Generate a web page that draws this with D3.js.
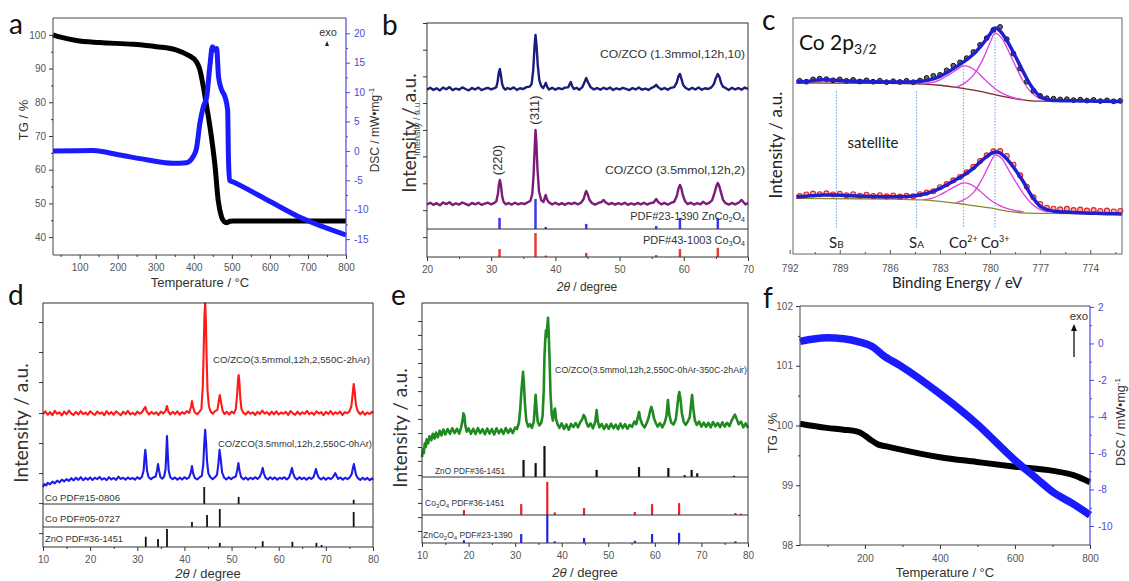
<!DOCTYPE html>
<html>
<head>
<meta charset="utf-8">
<script src="https://cdn.jsdelivr.net/npm/d3@7"></script>
<style>
  body { margin: 0; background: #fff; }
  svg text { font-family: "Liberation Sans", Arial, sans-serif; }
</style>
</head>
<body>
<script>
// ---------- panel a : TG / DSC ----------
const aTG = [[30,100],[50,99.3],[91,98.3],[153,97.7],[241,97.2],[302,96.5],[355,95.5],[385,94],[407,92],
  [415,90],[422,86.5],[432,80],[445,70.8],[456,60.9],[464,51],[473,46],[480,44.6],[486,44.3],[495,44.7],
  [504,44.8],[600,44.8],[700,44.8],[800,44.8]];
const aDSC = [[30,0],[135,0.05],[205,-0.7],[276,-1.5],[346,-2.1],[381,-2.0],[398,-1.0],[407,0.4],[416,4.7],
  [425,7.5],[434,9.2],[442,14.3],[449,17.7],[456,17.1],[460,17.4],[465,12.6],[473,10.4],[482,9.2],[489,6.9],
  [491,-1],[494,-5],[504,-5.3],[592,-8.3],[679,-11.3],[800,-14.3]];
const aTempTicks = [100,200,300,400,500,600,700,800];
const aTGTicks = [40,50,60,70,80,90,100];
const aDSCTicks = [-15,-10,-5,0,5,10,15,20];

// ---------- panel b : XRD ----------
const bUpper = [[20,71.5],[20.5,72.3],[21,71.4],[21.5,72.1],[22,71.2],[22.5,72.4],[23,71.7],[23.5,72.6],[24,71.3],
  [24.5,72.0],[25,71.5],[25.5,72.5],[26,71.8],[26.5,71.2],[27,72.2],[27.5,71.6],[28,72.4],[28.5,71.3],[29,71.9],
  [29.5,72.3],[30,71.6],[30.5,72.2],[30.8,72.6],[31.0,75],[31.2,79],[31.35,80.3],[31.5,78],[31.7,74],[31.9,72.4],
  [32.2,71.5],[32.5,72.2],[33,71.7],[33.5,72.5],[34,71.4],[34.5,72.1],[35,71.8],[35.5,72.6],[36,72.8],[36.3,74],
  [36.55,80],[36.75,90],[36.9,94.9],[37.05,91],[37.25,82],[37.5,75.5],[37.8,73],[38.1,72.2],[38.35,73.5],
  [38.5,74.4],[38.7,72.8],[39,71.6],[39.5,72.3],[40,71.5],[40.5,72.2],[41,71.7],[41.5,72.4],[42,72.5],
  [42.25,74],[42.4,74.8],[42.6,73],[42.9,71.8],[43.3,72.3],[43.7,71.5],[44.2,72.6],[44.5,74.5],[44.8,76.5],
  [45.1,74.6],[45.5,72.5],[46,71.6],[46.5,72.2],[47,71.5],[47.5,72.3],[48,71.7],[48.5,72.4],[49,71.4],
  [49.5,72.1],[50,71.6],[50.5,72.3],[51,71.8],[51.5,71.3],[52,72.2],[52.5,71.6],[53,72.4],[53.5,71.5],[54,72],
  [54.5,71.4],[55,72.3],[55.4,72.8],[55.7,73.6],[56,72.6],[56.5,71.6],[57,72.2],[57.5,71.5],[58,72.3],
  [58.5,72.6],[58.9,74.5],[59.2,77.5],[59.4,78.2],[59.65,76],[59.9,73.5],[60.3,72.2],[60.8,71.5],[61.3,72.3],
  [61.8,71.6],[62.3,72.4],[62.8,71.5],[63.3,72.1],[63.8,71.8],[64.3,72.5],[64.7,74],[65.0,76.5],[65.3,78.2],
  [65.55,77],[65.8,74.5],[66.1,72.8],[66.5,72.2],[67,71.4],[67.5,72.3],[68,71.6],[68.5,72.2],[69,71.5],
  [69.5,72.4],[70,71.8]];
const bLower = [[20,22.4],[20.5,23.2],[21,22.3],[21.5,23.0],[22,22.1],[22.5,23.3],[23,22.6],[23.5,23.4],[24,22.2],
  [24.5,22.9],[25,22.4],[25.5,23.3],[26,22.7],[26.5,22.1],[27,23.1],[27.5,22.5],[28,23.2],[28.5,22.3],[29,22.8],
  [29.5,23.2],[30,22.5],[30.5,23.1],[30.8,23.8],[31.05,27],[31.2,31],[31.35,32.9],[31.5,31],[31.7,26],
  [31.95,23.4],[32.3,22.5],[32.7,23.1],[33.2,22.4],[33.7,23.2],[34.2,22.5],[34.7,23.0],[35.2,22.6],[35.7,23.4],
  [36.1,24],[36.4,27],[36.6,35],[36.78,47],[36.9,54.3],[37.02,50],[37.2,38],[37.45,28],[37.8,24.2],[38.15,23.5],
  [38.35,25.5],[38.5,26.5],[38.7,24.5],[39,23.3],[39.5,22.5],[40,23.2],[40.5,22.4],[41,23.0],[41.5,22.3],
  [42,23.1],[42.5,22.6],[43,23.2],[43.5,22.5],[44,23.2],[44.4,24.8],[44.65,27.2],[44.8,28.2],[45.0,27],
  [45.3,24.5],[45.7,23.0],[46.2,22.4],[46.7,23.1],[47.2,23.5],[47.5,24.4],[47.8,23.4],[48.3,22.5],[48.8,23.1],
  [49.3,22.4],[49.8,23.0],[50.3,22.5],[50.8,23.2],[51.3,22.3],[51.8,22.9],[52.3,22.4],[52.8,23.1],[53.3,22.5],
  [53.8,23.2],[54.3,22.4],[54.8,23.0],[55.3,23.3],[55.7,24.8],[56.0,23.5],[56.5,22.5],[57,23.1],[57.5,22.4],
  [58,23.1],[58.5,23.6],[58.9,26],[59.2,29.5],[59.4,30.8],[59.6,29.5],[59.85,26.5],[60.2,23.8],[60.6,22.6],
  [61.1,23.2],[61.6,22.4],[62.1,23.0],[62.6,22.5],[63,23.6],[63.5,22.6],[64,23.2],[64.4,24.2],[64.8,27.5],
  [65.1,30.5],[65.3,31.6],[65.5,30.5],[65.8,27.5],[66.1,24.5],[66.5,23.0],[67,22.4],[67.5,23.1],[68,22.5],
  [68.6,23.3],[69,24.4],[69.3,23.4],[69.6,22.5],[70,23.0]];
const bRefZCO = [[31.3,37],[36.9,100],[38.5,7],[44.8,17],[55.7,10],[59.4,37],[65.3,37]];
const bRefCo3O4 = [[31.3,33],[36.9,100],[38.5,6],[44.8,17],[55.7,8],[59.4,33],[65.3,38]];
const bYTicks = [8.5,20,31.5,43,54.3,65.8,77.2,88.6,100];

// ---------- panel c : XPS Co 2p3/2 ----------
const cUpperFit = [[791.6,73.0],[791,73.1],[790.5,73.6],[790,73.8],[789.5,73.7],[789,73.5],[788.5,73.3],[788,73.2],
  [787,73.0],[786,72.9],[785,72.9],[784.5,73.0],[784,73.3],[783.5,74.0],[783,75.3],[782.5,77.2],[782,79.4],
  [781.5,81.8],[781,84.6],[780.5,88.5],[780,93.2],[779.7,95.8],[779.4,94.5],[779,90.5],[778.5,84],[778,77],
  [777.5,70.8],[777,66.8],[776.5,65.3],[776,65.0],[775,64.9],[774,64.8],[773,64.7],[772.1,64.6]];
const cUpperBg = [[791.6,72.5],[786,72.3],[784,72.0],[783,71.5],[782,70.6],[781,69.4],[780,68.0],[779,66.5],
  [778,65.3],[777.5,64.9],[777,64.8],[772.1,64.6]];
const cUpperCo2 = [[784,72.1],[783.5,72.6],[783,73.8],[782.5,75.8],[782,78.0],[781.6,79.7],[781.2,79.2],[780.8,77.3],
  [780.4,74.5],[780,71.8],[779.5,69.0],[779,67.2],[778.5,66.0],[778,65.4]];
const cUpperCo3 = [[782,70.7],[781.5,72.5],[781,75.8],[780.5,81.5],[780,89.5],[779.7,93.6],[779.3,91.5],[779,87.5],
  [778.5,80],[778,73],[777.5,68.2],[777,65.8],[776.5,65.0]];
const cUpperPts = [[791.4,73.4],[791.0,73.0],[790.6,74.0],[790.2,74.3],[789.8,74.1],[789.4,73.6],[789.0,74.0],
  [788.6,73.4],[788.2,73.8],[787.8,73.1],[787.4,73.6],[787.0,73.0],[786.6,73.4],[786.2,72.8],[785.8,73.2],
  [785.4,72.9],[785.0,73.4],[784.6,72.8],[784.2,73.5],[783.8,74.6],[783.4,75.5],[783.0,75.9],[782.6,77.8],
  [782.2,79.8],[781.8,81.2],[781.4,83.0],[781.0,85.6],[780.6,88.6],[780.2,91.5],[779.8,95.0],[779.4,96.2],
  [779.0,91.0],[778.6,84.9],[778.2,78.6],[777.8,73.0],[777.4,69.2],[777.0,67.0],[776.6,66.0],[776.2,65.8],
  [775.8,65.5],[775.4,65.6],[775.0,65.2],[774.6,65.4],[774.2,65.0],[773.8,65.3],[773.4,64.8],[773.0,65.1],
  [772.6,64.7],[772.2,64.9]];
const cLowerFit = [[791.6,24.3],[791,24.5],[790.5,24.8],[790,25.0],[789.5,25.0],[789,24.9],[788,24.6],[787,24.4],
  [786,24.3],[785,24.4],[784.5,24.7],[784,25.3],[783.5,26.3],[783,27.8],[782.5,29.7],[782,31.7],[781.5,33.8],
  [781,36.3],[780.5,39.6],[780,42.3],[779.7,43.2],[779.4,42.8],[779,40.3],[778.5,35.8],[778,30.5],[777.5,24.5],
  [777,20.2],[776.5,18.6],[776,18.0],[775,17.6],[774,17.3],[773,17.1],[772.1,17.0]];
const cLowerBg = [[791.6,23.6],[786,23.3],[784,22.9],[783,22.3],[782,21.5],[781,20.5],[780,19.5],[779,18.2],
  [778,17.4],[777,17.2],[772.1,17.0]];
const cLowerCo2 = [[784,23.0],[783.5,23.6],[783,25.0],[782.5,27.0],[782,29.0],[781.6,30.1],[781.2,29.6],[780.8,27.8],
  [780.4,25.4],[780,23.0],[779.5,20.8],[779,19.3],[778.5,18.4],[778,17.8]];
const cLowerCo3 = [[782,21.8],[781.5,23.2],[781,26.0],[780.5,31.5],[780,38.5],[779.7,41.9],[779.3,40.5],[779,37.0],
  [778.5,31.0],[778,25.5],[777.5,21.3],[777,18.8],[776.5,17.7]];
const cLowerPts = [[791.4,24.6],[791.0,25.2],[790.6,25.6],[790.2,25.3],[789.8,25.7],[789.4,25.2],[789.0,25.5],
  [788.6,24.9],[788.2,25.3],[787.8,24.7],[787.4,25.1],[787.0,24.6],[786.6,24.9],[786.2,24.4],[785.8,24.8],
  [785.4,24.3],[785.0,24.7],[784.6,24.5],[784.2,25.3],[783.8,26.0],[783.4,26.6],[783.0,28.3],[782.6,29.6],
  [782.2,31.2],[781.8,32.6],[781.4,34.6],[781.0,36.9],[780.6,39.4],[780.2,41.8],[779.8,43.5],[779.4,43.6],
  [779.0,41.5],[778.6,37.8],[778.2,33.3],[777.8,28.5],[777.4,24.0],[777.0,21.2],[776.6,19.6],[776.2,19.2],
  [775.8,18.9],[775.4,19.1],[775.0,18.6],[774.6,18.8],[774.2,18.4],[773.8,18.6],[773.4,18.2],[773.0,18.4],
  [772.6,18.0],[772.2,18.2]];
const cMarkers = [["S", "B", 789.2, 69], ["S", "A", 784.4, 69], ["Co", "2+", 781.6, 79.7], ["Co", "3+", 779.7, 95.8]];
const cTicks = [792,789,786,783,780,777,774];
const cMinor = [790.5,787.5,784.5,781.5,778.5,775.5,772.5];

// ---------- panel d : XRD after Ar treatment ----------
const dRed = [[10,54.5],[10.5,55.6],[11,54.2],[11.5,55.3],[12,54.0],[12.5,55.8],[13,54.6],[13.5,55.2],[14,53.9],
  [14.5,55.5],[15,54.4],[15.5,55.9],[16,54.7],[16.5,54.1],[17,55.4],[17.5,54.3],[18,55.7],[18.5,54.5],[19,55.1],
  [19.5,54.2],[20,55.6],[20.5,54.8],[21,54.1],[21.5,55.5],[22,54.6],[22.5,55.2],[23,54.0],[23.5,55.7],[24,54.4],
  [24.5,55.3],[25,54.2],[25.5,55.6],[26,54.8],[26.5,54.0],[27,55.4],[27.5,54.5],[28,55.8],[28.5,54.3],[29,55.0],
  [29.5,54.2],[30,55.5],[30.5,54.6],[31,55.3],[31.4,56.5],[31.7,57.4],[32,55.6],[32.5,54.3],[33,55.4],[33.5,54.5],
  [34,55.2],[34.5,54.1],[35,55.5],[35.5,54.7],[36,55.8],[36.3,57.8],[36.6,55.5],[37,54.3],[37.5,55.4],[38,54.5],
  [38.5,55.6],[39,54.2],[39.5,55.3],[40,54.6],[40.5,55.7],[41,55.0],[41.4,57.5],[41.6,59.8],[41.85,57.2],
  [42.2,55.2],[42.7,54.4],[43.2,55.5],[43.6,56.5],[43.9,66],[44.1,82],[44.25,95],[44.4,100],[44.55,93],[44.7,78],
  [44.9,64],[45.2,57.5],[45.6,55.4],[46,54.6],[46.5,55.7],[47,56.2],[47.3,60],[47.5,62.3],[47.75,59.5],[48.1,55.8],
  [48.5,54.5],[49,55.4],[49.5,54.3],[50,55.5],[50.5,54.8],[50.9,56.5],[51.2,63],[51.4,69],[51.5,70.5],[51.65,68],
  [51.85,61],[52.1,56.5],[52.5,55.0],[53,54.3],[53.5,55.5],[54,54.6],[54.5,55.2],[55,54.1],[55.5,55.4],[56,54.5],
  [56.5,55.9],[57,54.7],[57.5,55.3],[58,54.2],[58.5,55.5],[59,54.4],[59.5,55.6],[60,54.3],[60.5,55.1],[61,54.6],
  [61.5,55.4],[62,54.1],[62.5,55.7],[63,54.8],[63.5,54.2],[64,55.5],[64.5,54.3],[65,55.2],[65.5,54.6],[66,55.8],
  [66.5,54.4],[67,55.1],[67.5,54.2],[68,55.6],[68.5,54.7],[69,55.3],[69.5,54.0],[70,55.4],[70.5,54.5],[71,55.7],
  [71.5,54.3],[72,55.2],[72.5,54.6],[73,55.5],[73.5,54.1],[74,55.3],[74.5,54.8],[75,55.6],[75.4,57.5],[75.7,63],
  [75.9,66.8],[76.1,64],[76.4,58],[76.8,55.6],[77.3,54.4],[77.8,55.5],[78.3,54.2],[78.8,55.1],[79.3,54.5],
  [79.8,55.4],[80,54.8]];
const dBlue = [[10,24.6],[10.3,25.8],[10.7,25.2],[11,26.3],[11.5,25.7],[12,26.8],[12.5,26.1],[13,27.2],[13.5,26.5],
  [14,27.6],[14.5,26.9],[15,27.8],[15.5,27.1],[16,28.2],[16.5,27.3],[17,28.4],[17.5,27.5],[18,28.6],[18.5,27.4],
  [19,28.3],[19.5,27.6],[20,28.5],[20.5,27.5],[21,28.4],[21.5,27.8],[22,28.7],[22.5,27.6],[23,28.2],[23.5,27.4],
  [24,28.6],[24.5,27.7],[25,28.3],[25.5,27.5],[26,28.8],[26.5,27.9],[27,28.4],[27.5,27.6],[28,28.5],[28.5,27.8],
  [29,28.3],[29.5,27.6],[30,28.6],[30.5,27.9],[31,28.8],[31.35,31.5],[31.55,37],[31.7,39.8],[31.85,37],[32.05,31.5],
  [32.4,28.6],[32.9,27.8],[33.4,28.5],[33.9,28.9],[34.2,31.5],[34.4,34],[34.6,31.5],[34.9,28.7],[35.3,28.0],
  [35.7,28.9],[36.0,32],[36.15,38],[36.3,45.5],[36.45,39],[36.65,31.5],[37,28.6],[37.5,27.8],[38,28.5],[38.5,27.6],
  [39,28.4],[39.5,27.7],[40,28.6],[40.5,27.9],[41,28.5],[41.35,30.5],[41.6,33.2],[41.85,30.2],[42.2,28.3],
  [42.7,27.7],[43.2,28.5],[43.7,29.2],[44.0,34],[44.2,42],[44.4,48],[44.6,42.5],[44.8,35],[45.1,30],[45.5,28.6],
  [46,27.8],[46.5,28.7],[46.9,29.5],[47.2,34],[47.45,39.8],[47.7,36],[48,30.5],[48.4,28.5],[48.9,27.7],[49.4,28.6],
  [49.9,27.8],[50.4,28.5],[50.9,28.9],[51.2,31.5],[51.45,34.4],[51.7,31.2],[52,28.8],[52.5,27.7],[53,28.5],
  [53.5,27.6],[54,28.4],[54.5,27.8],[55,28.6],[55.5,27.9],[56,28.8],[56.35,30.5],[56.6,32.4],[56.85,30.2],
  [57.2,28.4],[57.7,27.7],[58.2,28.6],[58.7,27.8],[59.2,28.5],[59.7,27.6],[60.2,28.4],[60.7,27.9],[61.2,28.6],
  [61.7,27.7],[62.2,28.5],[62.55,30.5],[62.8,32.4],[63.05,30.3],[63.4,28.5],[63.9,27.7],[64.4,28.6],[64.9,27.8],
  [65.4,28.4],[65.9,27.6],[66.4,28.5],[66.9,27.9],[67.4,28.7],[67.65,30.3],[67.9,32],[68.15,30.1],[68.5,28.4],
  [69,27.7],[69.5,28.5],[70,27.6],[70.5,28.4],[71,27.8],[71.5,28.6],[71.8,29.6],[72,30.3],[72.25,29.2],[72.6,27.9],
  [73.1,28.5],[73.6,27.6],[74.1,28.4],[74.6,27.8],[75.1,28.6],[75.5,30],[75.75,32.5],[75.95,34],[76.15,32],
  [76.4,29.5],[76.8,28.2],[77.3,27.5],[77.8,28.4],[78.3,27.6],[78.8,28.3],[79.3,27.4],[79.8,28.1],[80,27.5]];
const dRefCo1 = [[44.2,100],[51.5,42],[75.9,25]];
const dRefCo2 = [[41.6,28],[44.8,67],[47.5,100],[75.9,83]];
const dRefZnO = [[31.8,57],[34.4,44],[36.3,100],[47.5,23],[56.6,32],[62.9,29],[68.0,23],[69.1,11]];
const dYTicks = [5.7,18,30.3,42.6,54.9,67.6,79.9,92.2];

// ---------- panel e : XRD after air treatment ----------
const eGreen = [[10,35.8],[10.2,39],[10.4,37.5],[10.6,41.5],[10.8,40],[11,43.2],[11.3,41.5],[11.6,44.5],[12,42.8],
  [12.3,45.5],[12.7,43.5],[13,46],[13.4,44],[13.8,46.8],[14.2,44.8],[14.6,47.3],[15,45.2],[15.5,47.5],[16,45.5],
  [16.5,47.8],[17,45.8],[17.5,47.6],[18,45.6],[18.4,48.2],[18.7,51],[18.9,54],[19.1,53],[19.3,49],[19.6,46.4],
  [20,47.8],[20.5,45.5],[21,47.6],[21.5,45.4],[22,47.9],[22.5,45.8],[23,47.4],[23.5,45.3],[24,47.7],[24.5,45.6],
  [25,47.5],[25.5,45.2],[26,47.8],[26.5,45.7],[27,47.3],[27.5,45.5],[28,47.9],[28.5,45.9],[29,47.6],[29.5,45.8],
  [30,48.1],[30.4,47.5],[30.8,50],[31.1,56],[31.3,62],[31.5,67],[31.7,71.3],[31.9,66],[32.1,58],[32.4,51],
  [32.8,48.5],[33.2,49.5],[33.6,48],[34.0,50.5],[34.2,56],[34.4,61.7],[34.6,56],[34.85,50.5],[35.2,49],[35.6,50],
  [35.9,53],[36.15,64],[36.3,78],[36.45,84],[36.6,88.5],[36.75,86],[36.9,90],[37.05,93.8],[37.2,88],[37.4,76],
  [37.6,62],[37.85,53.5],[38.1,51],[38.35,54.5],[38.55,56],[38.8,51.5],[39.1,49.5],[39.5,48],[40,49.8],[40.5,47.5],
  [41,49.4],[41.5,47.2],[42,49.6],[42.5,48.3],[43,50],[43.5,48.2],[44,50.4],[44.4,51.5],[44.7,53.3],[45,52.5],
  [45.3,50.2],[45.7,48.5],[46.2,49.8],[46.7,47.8],[47.2,50.5],[47.5,55.4],[47.75,50.8],[48.1,48.2],[48.6,49.6],
  [49.1,47.5],[49.6,49.4],[50.1,47.6],[50.6,49.7],[51.1,47.8],[51.6,49.3],[52.1,47.4],[52.6,49.8],[53.1,47.9],
  [53.6,49.5],[54.1,47.6],[54.6,49.2],[55.1,48.4],[55.6,50.6],[56.0,49.5],[56.3,52],[56.6,54.6],[56.9,51.5],
  [57.3,49.4],[57.8,48.1],[58.3,50.2],[58.7,52.5],[59.0,55.2],[59.25,56.7],[59.5,55],[59.8,52],[60.2,50],
  [60.6,48.5],[61.1,49.9],[61.6,48.2],[62.1,50.1],[62.5,53],[62.8,59.6],[63.1,53.5],[63.5,50.2],[64,49.4],
  [64.5,51.5],[64.8,56.5],[65.05,61],[65.25,62.9],[65.5,60],[65.8,54],[66.2,50.5],[66.6,49.2],[67.1,50.7],
  [67.5,52.5],[67.8,58.5],[68.0,61.7],[68.25,56],[68.6,51],[69,49.2],[69.5,50.6],[70,48.5],[70.5,50.2],[71,48.4],
  [71.5,50.1],[72,48.2],[72.5,50.4],[73,48.6],[73.5,50.0],[74,48.3],[74.5,50.3],[75,48.5],[75.5,50.1],[76,48.7],
  [76.5,51],[76.9,52.5],[77.2,53.5],[77.6,51.5],[78,49.5],[78.5,50.6],[79,48.2],[79.5,49.8],[80,48]];
const eRefZnO = [[31.8,55],[34.4,45],[36.3,100],[47.5,23],[56.6,32],[62.9,29],[66.4,6],[67.9,23],[69.1,12],[77,4]];
const eRefCo3O4 = [[19,15],[31.3,33],[36.9,100],[38.5,8],[44.8,21],[55.7,9],[59.4,33],[65.2,36],[77.3,6],[78.5,4]];
const eRefZCO = [[19,10],[31.3,32],[36.9,100],[38.5,6],[44.8,18],[55.7,8],[59.4,32],[65.2,36],[77.3,6]];
const eYTicks = [5,10.8,16.7,22.5,28.3,34.2,40,45.8,51.7,57.5,63.3,69.2,75,80.8,86.7,92.5];

// ---------- panel f : TG / DSC ----------
const fTG = [[27,100.03],[98,99.96],[143,99.93],[178,99.9],[196,99.85],[213,99.77],[236,99.68],[258,99.65],
  [293,99.6],[347,99.53],[400,99.47],[498,99.39],[600,99.31],[702,99.24],[756,99.17],[800,99.05]];
const fDSC = [[27,0.11],[98,0.31],[143,0.26],[187,0.07],[222,-0.2],[249,-0.66],[293,-1.2],[400,-2.76],
  [498,-4.4],[600,-6.4],[658,-7.4],[702,-8.15],[756,-8.8],[800,-9.4]];
const fTempTicks = [200,400,600,800];
const fTGTicks = [98,99,100,101,102];
const fDSCTicks = [-10,-8,-6,-4,-2,0,2];

const XRD_DEG = [10,20,30,40,50,60,70,80];

// ================= drawing =================
const svg = d3.select('body').append('svg').attr('width', 1129).attr('height', 581);

function frame(x0, y0, x1, y1, color) {
  svg.append('rect').attr('x', x0).attr('y', y0).attr('width', x1 - x0).attr('height', y1 - y0)
    .attr('fill', 'none').attr('stroke', color || '#333').attr('stroke-width', 1);
}

function axis(kind, scale, pos, values, minor, o = {}) {
  const make = { bottom: d3.axisBottom, left: d3.axisLeft, right: d3.axisRight }[kind];
  const tr = kind === 'bottom' ? `translate(0,${pos})` : `translate(${pos},0)`;
  const g = svg.append('g').attr('transform', tr)
    .call(make(scale).tickValues(values).tickSizeInner(o.tick ?? 4).tickSizeOuter(0)
      .tickPadding(o.pad ?? 3).tickFormat(o.noLabels ? '' : (d => String(d))));
  g.select('.domain').remove();
  g.selectAll('line').attr('stroke', o.color || '#333');
  g.selectAll('text').attr('fill', o.textColor || '#555').style('font-size', (o.fs || 10) + 'px')
    .style('font-family', o.font || '"Liberation Sans", Arial, sans-serif');
  if (minor) {
    const m = svg.append('g').attr('transform', tr)
      .call(make(scale).tickValues(minor).tickSizeInner(o.minorTick ?? 2).tickSizeOuter(0).tickFormat(''));
    m.select('.domain').remove();
    m.selectAll('line').attr('stroke', o.color || '#333');
  }
}

function path(data, xs, ys, color, width, curve) {
  svg.append('path').datum(data)
    .attr('fill', 'none').attr('stroke', color).attr('stroke-width', width)
    .attr('stroke-linejoin', 'round')
    .attr('d', d3.line().x(d => xs(d[0])).y(d => ys(d[1])).curve(curve || d3.curveLinear));
}

function sticks(data, xs, ys, color, width) {
  svg.append('g').selectAll('line').data(data).join('line')
    .attr('x1', d => xs(d[0])).attr('x2', d => xs(d[0]))
    .attr('y1', ys(0)).attr('y2', d => ys(d[1]))
    .attr('stroke', color).attr('stroke-width', width);
}

function text(str, x, y, o = {}) {
  const t = svg.append('text').attr('x', x).attr('y', y)
    .attr('text-anchor', o.anchor || 'start')
    .attr('fill', o.color || '#222')
    .style('font-size', (o.fs || 12) + 'px');
  if (o.font) t.style('font-family', o.font);
  if (o.len) t.attr('textLength', o.len).attr('lengthAdjust', 'spacingAndGlyphs');
  if (o.rot) t.attr('transform', `rotate(${o.rot},${x},${y})`);
  t.text(str);
  return t;
}

const LATO = 'Lato, "Open Sans", sans-serif';
const DSC_BLUE = '#1a1aff';
const AXIS_BLUE = '#4a4ad8';

function panelLetter(ch, x, y) {
  text(ch, x, y, { fs: 28, color: '#111', font: LATO });
}

function twoTheta(x, y, fs) {
  const t = svg.append('text').attr('x', x).attr('y', y).attr('text-anchor', 'middle')
    .attr('fill', '#333').style('font-size', fs + 'px');
  t.append('tspan').style('font-style', 'italic').text('2\u03B8');
  t.append('tspan').text(' / degree');
}

// ---------- a ----------
{
  const x = d3.scaleLinear().domain([30, 800]).range([53, 346]);
  const yTG = d3.scaleLinear().domain([34.7, 105]).range([255, 18]);
  const yDSC = d3.scaleLinear().domain([-17.7, 22.6]).range([255, 18]);
  path(aTG, x, yTG, '#000', 5, d3.curveMonotoneX);
  path(aDSC, x, yDSC, DSC_BLUE, 5, d3.curveMonotoneX);
  svg.append('path').attr('d', 'M53,255V18H346').attr('fill', 'none').attr('stroke', '#444');
  svg.append('line').attr('x1', 53).attr('x2', 346).attr('y1', 255).attr('y2', 255).attr('stroke', '#444');
  svg.append('line').attr('x1', 346).attr('x2', 346).attr('y1', 18).attr('y2', 255).attr('stroke', AXIS_BLUE).attr('stroke-width', 1.2);
  axis('bottom', x, 255, aTempTicks, [50,150,250,350,450,550,650,750], { pad: 5 });
  axis('left', yTG, 53, aTGTicks, [45,55,65,75,85,95], { pad: 3 });
  axis('right', yDSC, 346, aDSCTicks, [-12.5,-7.5,-2.5,2.5,7.5,12.5,17.5], { color: AXIS_BLUE, textColor: AXIS_BLUE, pad: 4 });
  text('TG / %', 28, 120, { fs: 13, anchor: 'middle', rot: -90, color: '#333' });
  const dl = svg.append('text').attr('transform', 'translate(379,130) rotate(-90)').attr('text-anchor', 'middle')
    .attr('fill', '#333').style('font-size', '12px');
  dl.append('tspan').text('DSC / mW\u2022mg');
  dl.append('tspan').attr('dy', -5).style('font-size', '8px').text('-1');
  text('Temperature / \u00B0C', 200, 287, { fs: 13, anchor: 'middle', color: '#333' });
  text('exo', 328, 36, { fs: 11, anchor: 'middle', color: '#333' });
  svg.append('path').attr('d', 'M325,46 L327,41 L329,46 Z').attr('fill', '#222');
  panelLetter('a', 9, 34);
}

// ---------- b ----------
{
  const x = d3.scaleLinear().domain([20, 70]).range([427, 748]);
  const y = d3.scaleLinear().domain([0, 100]).range([257, 23]);
  const yZ = d3.scaleLinear().domain([0, 100]).range([229, 199]);
  const yC = d3.scaleLinear().domain([0, 100]).range([257, 233]);
  sticks(bRefZCO, x, yZ, '#3a3ae8', 2.5);
  sticks(bRefCo3O4, x, yC, '#e83a3a', 2.5);
  path(bUpper, x, y, '#1c1c7c', 2.4);
  path(bLower, x, y, '#7c1c78', 2.4);
  frame(427, 23, 748, 257, '#333');
  svg.append('line').attr('x1', 427).attr('x2', 748).attr('y1', 229).attr('y2', 229).attr('stroke', '#333');
  axis('bottom', x, 257, [20,30,40,50,60,70], [25,35,45,55,65], { pad: 5 });
  axis('left', y, 427, bYTicks, null, { noLabels: true });
  text('CO/ZCO (1.3mmol,12h,10)', 745, 58, { fs: 11.5, anchor: 'end', color: '#333', len: 145 });
  text('CO/ZCO (3.5mmol,12h,2)', 745, 174, { fs: 11.5, anchor: 'end', color: '#333', len: 140 });
  const t1 = svg.append('text').attr('x', 745).attr('y', 220).attr('text-anchor', 'end').attr('fill', '#333').style('font-size', '11px');
  t1.append('tspan').text('PDF#23-1390 ZnCo');
  t1.append('tspan').style('font-size', '7px').attr('dy', 2).text('2');
  t1.append('tspan').attr('dy', -2).text('O');
  t1.append('tspan').style('font-size', '7px').attr('dy', 2).text('4');
  const t2 = svg.append('text').attr('x', 745).attr('y', 244).attr('text-anchor', 'end').attr('fill', '#333').style('font-size', '11px');
  t2.append('tspan').text('PDF#43-1003 Co');
  t2.append('tspan').style('font-size', '7px').attr('dy', 2).text('3');
  t2.append('tspan').attr('dy', -2).text('O');
  t2.append('tspan').style('font-size', '7px').attr('dy', 2).text('4');
  text('(220)', 502, 160, { fs: 13, anchor: 'middle', rot: -90, color: '#333' });
  text('(311)', 539, 110, { fs: 13, anchor: 'middle', rot: -90, color: '#333' });
  text('Intensity / a.u.', 416, 133, { fs: 19, anchor: 'middle', rot: -90, color: '#333', font: LATO });
  text('Intensity / a.u.', 420, 128, { fs: 9, anchor: 'middle', rot: -90, color: '#555' });
  twoTheta(587, 291, 12);
  panelLetter('b', 382, 35);
}

// ---------- c ----------
{
  const x = d3.scaleLinear().domain([791.8, 772.1]).range([793, 1122]);
  const y = d3.scaleLinear().domain([0, 100]).range([254, 18]);
  svg.append('g').selectAll('line').data(cMarkers).join('line')
    .attr('x1', d => x(d[2])).attr('x2', d => x(d[2]))
    .attr('y1', d => y(d[3])).attr('y2', y(11))
    .attr('stroke', '#6a9fd8').attr('stroke-width', 1).attr('stroke-dasharray', '1.5,1.5');
  path(cUpperBg, x, y, '#7a2a2a', 1.3, d3.curveMonotoneX);
  path(cLowerBg, x, y, '#8a8a30', 1.3, d3.curveMonotoneX);
  [cUpperCo2, cUpperCo3, cLowerCo2, cLowerCo3].forEach(c => path(c, x, y, '#e040e0', 1.3, d3.curveCatmullRom));
  svg.append('g').selectAll('circle').data(cUpperPts).join('circle')
    .attr('cx', d => x(d[0])).attr('cy', d => y(d[1])).attr('r', 2.4)
    .attr('fill', '#666').attr('stroke', '#111').attr('stroke-width', 1);
  svg.append('g').selectAll('circle').data(cLowerPts).join('circle')
    .attr('cx', d => x(d[0])).attr('cy', d => y(d[1])).attr('r', 2.5)
    .attr('fill', '#f6b0b0').attr('stroke', '#e02020').attr('stroke-width', 1.1);
  path(cUpperFit, x, y, '#1f1fd0', 3.5, d3.curveCatmullRom);
  path(cLowerFit, x, y, '#1f1fd0', 3.5, d3.curveCatmullRom);
  frame(793, 18, 1122, 254, '#666');
  axis('bottom', x, 254, cTicks, cMinor, { tick: -4, minorTick: -2, pad: 11, fs: 10, textColor: '#555', color: '#555' });
  cMarkers.forEach(m => {
    const t = svg.append('text').attr('x', x(m[2])).attr('y', 248).attr('text-anchor', 'middle')
      .attr('fill', '#222').style('font-size', '15px').style('font-family', LATO);
    t.append('tspan').text(m[0]);
    if (m[0] === 'S') t.append('tspan').style('font-size', '10px').text(m[1]);
    else t.append('tspan').style('font-size', '9px').attr('dy', -6).text(m[1]);
  });
  const ct = svg.append('text').attr('x', 799).attr('y', 50).attr('fill', '#111')
    .style('font-size', '21px').style('font-family', LATO);
  ct.append('tspan').text('Co 2p');
  ct.append('tspan').style('font-size', '14px').attr('dy', 4).text('3/2');
  text('satellite', 873, 148, { fs: 15, anchor: 'middle', color: '#222', font: LATO });
  text('Intensity / a.u.', 782, 145, { fs: 17, anchor: 'middle', rot: -90, color: '#222', font: LATO });
  text('Binding Energy / eV', 957, 288, { fs: 15, anchor: 'middle', color: '#222', font: LATO });
  panelLetter('c', 762, 30);
}

// ---------- d ----------
{
  const x = d3.scaleLinear().domain([10, 80]).range([43, 373]);
  const y = d3.scaleLinear().domain([0, 100]).range([547, 303]);
  const y1 = d3.scaleLinear().domain([0, 100]).range([504, 487]);
  const y2 = d3.scaleLinear().domain([0, 100]).range([527, 509]);
  const y3 = d3.scaleLinear().domain([0, 100]).range([547, 529]);
  sticks(dRefCo1, x, y1, '#111', 1.8);
  sticks(dRefCo2, x, y2, '#111', 1.8);
  sticks(dRefZnO, x, y3, '#111', 1.8);
  path(dRed, x, y, '#ff1a1a', 2.1);
  path(dBlue, x, y, '#1c1ce6', 2.1);
  frame(43, 303, 373, 547, '#333');
  [504, 527].forEach(v => svg.append('line').attr('x1', 43).attr('x2', 373).attr('y1', v).attr('y2', v).attr('stroke', '#333'));
  axis('bottom', x, 547, XRD_DEG, [15,25,35,45,55,65,75], { pad: 5 });
  axis('left', y, 43, dYTicks, null, { noLabels: true });
  text('CO/ZCO(3.5mmol,12h,2,550C-2hAr)', 213, 363, { fs: 9.5, color: '#333', len: 157 });
  text('CO/ZCO(3.5mmol,12h,2,550C-0hAr)', 218, 447, { fs: 9.5, color: '#333', len: 154 });
  text('Co PDF#15-0806', 45, 501, { fs: 9, color: '#333', len: 75 });
  text('Co PDF#05-0727', 45, 522, { fs: 9, color: '#333', len: 75 });
  text('ZnO PDF#36-1451', 45, 542, { fs: 9, color: '#333', len: 78 });
  text('Intensity / a.u.', 28, 423, { fs: 19, anchor: 'middle', rot: -90, color: '#333', font: LATO });
  twoTheta(208, 578, 13);
  panelLetter('d', 8, 305);
}

// ---------- e ----------
{
  const x = d3.scaleLinear().domain([10, 80]).range([422, 748]);
  const y = d3.scaleLinear().domain([0, 100]).range([543, 303]);
  const y1 = d3.scaleLinear().domain([0, 100]).range([477, 446]);
  const y2 = d3.scaleLinear().domain([0, 100]).range([515, 482]);
  const y3 = d3.scaleLinear().domain([0, 100]).range([543, 515]);
  sticks(eRefZnO, x, y1, '#111', 2.2);
  sticks(eRefCo3O4, x, y2, '#ee2222', 2.2);
  sticks(eRefZCO, x, y3, '#2222ee', 2.2);
  path(eGreen, x, y, '#1f8a1f', 2.6);
  frame(422, 303, 748, 543, '#333');
  [477, 515].forEach(v => svg.append('line').attr('x1', 422).attr('x2', 748).attr('y1', v).attr('y2', v).attr('stroke', '#333'));
  axis('bottom', x, 543, XRD_DEG, [15,25,35,45,55,65,75], { pad: 5 });
  axis('left', y, 422, eYTicks, null, { noLabels: true });
  text('CO/ZCO(3.5mmol,12h,2,550C-0hAr-350C-2hAir)', 555, 373, { fs: 8.5, color: '#333', len: 192 });
  text('ZnO PDF#36-1451', 435, 474, { fs: 8.5, color: '#333', len: 70 });
  const t1 = svg.append('text').attr('x', 425).attr('y', 506).attr('fill', '#333').style('font-size', '8.5px');
  t1.append('tspan').text('Co');
  t1.append('tspan').style('font-size', '6px').attr('dy', 1.5).text('3');
  t1.append('tspan').attr('dy', -1.5).text('O');
  t1.append('tspan').style('font-size', '6px').attr('dy', 1.5).text('4');
  t1.append('tspan').attr('dy', -1.5).text(' PDF#36-1451');
  const t2 = svg.append('text').attr('x', 423).attr('y', 538).attr('fill', '#333').style('font-size', '8.5px');
  t2.append('tspan').text('ZnCo');
  t2.append('tspan').style('font-size', '6px').attr('dy', 1.5).text('2');
  t2.append('tspan').attr('dy', -1.5).text('O');
  t2.append('tspan').style('font-size', '6px').attr('dy', 1.5).text('4');
  t2.append('tspan').attr('dy', -1.5).text(' PDF#23-1390');
  text('Intensity / a.u.', 407, 428, { fs: 19, anchor: 'middle', rot: -90, color: '#333', font: LATO });
  twoTheta(585, 577, 13);
  panelLetter('e', 391, 305);
}

// ---------- f ----------
{
  const x = d3.scaleLinear().domain([27, 800]).range([800, 1090]);
  const yTG = d3.scaleLinear().domain([98, 102]).range([545, 306]);
  const yDSC = d3.scaleLinear().domain([-11.04, 2.05]).range([545, 306]);
  path(fTG, x, yTG, '#000', 6, d3.curveMonotoneX);
  path(fDSC, x, yDSC, DSC_BLUE, 7.5, d3.curveMonotoneX);
  svg.append('path').attr('d', 'M800,545V306H1090').attr('fill', 'none').attr('stroke', '#444');
  svg.append('line').attr('x1', 800).attr('x2', 1090).attr('y1', 545).attr('y2', 545).attr('stroke', '#444');
  svg.append('line').attr('x1', 1090).attr('x2', 1090).attr('y1', 306).attr('y2', 545).attr('stroke', AXIS_BLUE).attr('stroke-width', 1.2);
  axis('bottom', x, 545, fTempTicks, [100,300,500,700], { pad: 6 });
  axis('left', yTG, 800, fTGTicks, [98.5,99.5,100.5,101.5], { pad: 3 });
  axis('right', yDSC, 1090, fDSCTicks, [-9,-7,-5,-3,-1,1], { color: AXIS_BLUE, textColor: AXIS_BLUE, pad: 4 });
  text('TG / %', 777, 433, { fs: 13, anchor: 'middle', rot: -90, color: '#333' });
  const dl = svg.append('text').attr('transform', 'translate(1125,422) rotate(-90)').attr('text-anchor', 'middle')
    .attr('fill', '#333').style('font-size', '12.5px');
  dl.append('tspan').text('DSC / mW\u2022mg');
  dl.append('tspan').attr('dy', -5).style('font-size', '8px').text('-1');
  text('Temperature / \u00B0C', 945, 577, { fs: 13, anchor: 'middle', color: '#333' });
  text('exo', 1079, 320, { fs: 11.5, anchor: 'middle', color: '#333' });
  svg.append('line').attr('x1', 1074).attr('x2', 1074).attr('y1', 357).attr('y2', 330).attr('stroke', '#111').attr('stroke-width', 1.3);
  svg.append('path').attr('d', 'M1071,331 L1074,324 L1077,331 Z').attr('fill', '#111');
  panelLetter('f', 763, 308);
}
</script>
</body>
</html>
